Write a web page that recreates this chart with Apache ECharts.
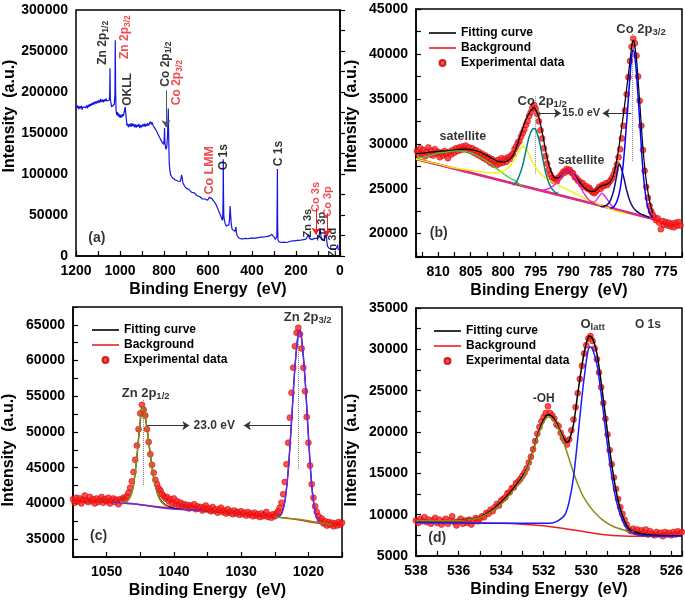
<!DOCTYPE html>
<html>
<head>
<meta charset="utf-8">
<script src="https://cdn.jsdelivr.net/npm/echarts@6/dist/echarts.min.js"></script>
<style>
  html, body { margin: 0; padding: 0; background: #fff; }
  #chart { width: 685px; height: 605px; }
</style>
</head>
<body>
<div id="chart"></div>
<script>
// (a) survey spectrum, [binding energy eV, counts]
const surveyData = [
  [1200,184000],[1196,180500],[1192,183500],[1188,179000],[1184,182500],[1180,180000],[1176,183000],[1172,178500],
  [1168,182000],[1164,180500],[1160,184000],[1156,181000],[1152,183500],[1148,180000],[1144,184500],[1140,182000],
  [1136,185500],[1132,183000],[1128,186500],[1124,184000],[1120,187500],[1116,185000],[1112,188500],[1108,186000],
  [1104,189000],[1100,186500],[1096,190000],[1092,187000],[1088,191500],[1084,188000],[1080,190500],[1076,187500],
  [1072,191000],[1068,188500],[1064,192000],[1060,189000],[1056,191000],[1052,187500],[1049,190000],[1047,196000],
  [1045.5,229000],[1044,192000],[1041,186000],[1038,182000],[1035,180500],[1032,183000],[1029,181500],[1026,185000],
  [1023,197000],[1021.5,263000],[1020,205000],[1018,178000],[1015,172000],[1012,175500],[1009,170500],[1006,173500],
  [1003,169000],[1000,172500],[997,168500],[994,172000],[991,169500],[988,173000],[985,170500],[982,174000],
  [979,172000],[976.5,182000],[974,175000],[971,166000],[968,159000],[965,161500],[962,157000],[959,160500],
  [956,158000],[953,161500],[950,157500],[946,162000],[942,158500],[938,161000],[934,157000],[930,160500],
  [926,156500],[922,160000],[918,157500],[914,161000],[910,156000],[906,159500],[902,157000],[898,160500],
  [894,158000],[890,161500],[886,157500],[882,161000],[878,158500],[874,162000],[870,159000],[866,161500],
  [862,164000],[858,160500],[854,163000],[850,159500],[846,160500],[842,156000],[838,155500],[834,152500],
  [830,152000],[826,148000],[822,147000],[818,143500],[814,142000],[810,139500],[806,138000],[802,136000],
  [799,142000],[797.5,156000],[796,139000],[793,132500],[790,130000],[787,134000],[784,146000],[782,165000],
  [780.5,180000],[779,150000],[777.5,128000],[776,112000],[773,104000],[770,99000],[766,97000],[762,95500],
  [758,96500],[754,94000],[750,93000],[746,92500],[742,93500],[738,91500],[734,92000],[730,90500],
  [726,91000],[723,94500],[720,99000],[717,95000],[714,89000],[710,87500],[706,85000],[702,84000],
  [698,82500],[694,83000],[690,80500],[686,81000],[682,79000],[678,79500],[674,77500],[670,78000],
  [666,76500],[662,77000],[658,75000],[654,75500],[650,73500],[646,74000],[642,72000],[638,72500],
  [634,70500],[630,71000],[626,69500],[622,70000],[618,68500],[614,69500],[610,68000],[606,69000],
  [602,68000],[598,70000],[594,71500],[590,73500],[586,72000],[582,70000],[578,68500],[574,67000],
  [570,66000],[566,64000],[562,62500],[558,59500],[554,56500],[550,54000],[546,51500],[542,49000],
  [538,46000],[535,43500],[533,46000],[531.5,70000],[530.5,118000],[529.5,75000],[528,48000],[525,42500],
  [521,39000],[517,36500],[513,35500],[509,36000],[505,38000],[502,45000],[499.5,61000],[497,50000],
  [494,38000],[490,32500],[486,31000],[482,31500],[478,30000],[475,32000],[473,35500],[471,29000],
  [468,25000],[465,23000],[460,22000],[455,21500],[450,21000],[445,22000],[440,21000],[435,22500],
  [430,21500],[425,22000],[420,21000],[415,22500],[410,21500],[405,23000],[400,22000],[395,22500],
  [390,21500],[385,23000],[380,22000],[375,23000],[370,22500],[365,23500],[360,23000],[355,24000],
  [350,23000],[345,24000],[340,23500],[335,24500],[330,24000],[325,25000],[320,24500],[315,25500],
  [310,26500],[306,28000],[302,26000],[298,22500],[294,20000],[290,19000],[287,24000],[285.5,70000],
  [284.5,106000],[283.5,40000],[282,20000],[279,17500],[275,17000],[270,17500],[265,16500],[260,17500],
  [255,17000],[250,17500],[245,16500],[240,18000],[235,17000],[230,17500],[225,18000],[220,17000],
  [215,18500],[210,17500],[205,18500],[200,18000],[195,19000],[190,18000],[185,19000],[180,18500],
  [175,19500],[170,19000],[165,20000],[160,19500],[155,20500],[150,20000],[146,21500],[142.5,26000],
  [139,21500],[135,20000],[131,21000],[127,20000],[123,21500],[119,20500],[115,21500],[111,20500],
  [107,22000],[103,21500],[99,23000],[95,24000],[92,29000],[89.5,33500],[87,25000],[84,20000],
  [80,18500],[76,18000],[72,18500],[68,20000],[65,25000],[62.5,28500],[60,18000],[57,12000],
  [54,10000],[50,9500],[45,9000],[40,8500],[35,8000],[30,8200],[25,7600],[20,8000],
  [16,8800],[13,11500],[11,14000],[9,8500],[6,7200],[3,7600],[0,7000]
];

// (b) Co 2p, experimental points from 813.25 eV downwards in 0.25 eV steps
const coStart = 813.25, coStep = 0.25;
const coCounts = [
  29200,28800,29500,28900,29300,28600,29100,29600,28800,29200,28700,29400,28900,29100,28500,29000,
  28700,29200,28900,28400,29100,28800,29300,29000,29500,29200,29600,29300,29700,29400,29800,29300,
  29600,29200,29500,29000,29300,28800,29100,28600,28900,28400,28700,28200,28500,27900,28300,27700,
  28100,27600,28200,27800,28400,27900,28300,28000,28500,28300,28700,28900,29400,29700,30100,30300,
  30800,31200,31600,32100,32500,33100,33500,34000,34300,33900,33300,32500,31500,30600,29500,28600,
  27800,27100,26600,26200,25900,26100,25800,26200,26400,26600,26900,26800,27200,27000,27100,26800,
  26700,26300,26200,25900,25800,25500,25600,25200,25300,25000,25100,24800,24600,24500,24700,24900,
  25200,25000,25400,25300,25600,25400,25700,25900,26200,26600,27100,27700,28500,29400,30600,32000,
  33700,35500,37400,39200,40800,41700,41200,39800,37500,34800,32000,29300,27000,25200,24000,23100,
  22500,22100,21800,21500,21700,21200,20500,21400,21000,21300,20900,21200,20800,21100,20700,21200,
  20900,21300,20900
];
const coFit = [
  [813.4,28900],[812,29000],[811,29100],[810,29150],[809,29200],[808,29250],[807,29350],[806,29400],
  [805,29350],[804,29200],[803,28900],[802,28500],[801,28100],[800,27950],[799,28250],[798.5,28700],
  [798,29500],[797.5,30600],[797,31700],[796.5,32700],[796,33400],[795.5,33900],[795.2,34000],[795,33800],
  [794.5,32900],[794,31300],[793.5,29400],[793,27700],[792.5,26700],[792,26200],[791.5,26200],[791,26500],
  [790.5,26900],[790,27100],[789.5,26900],[789,26500],[788.5,26000],[788,25500],[787.5,25100],[787,24800],
  [786.5,24700],[786,24700],[785.5,25000],[785,25300],[784.5,25400],[784,25500],[783.5,25800],[783,26600],
  [782.5,28300],[782,30600],[781.5,33300],[781,36200],[780.5,39200],[780.2,41000],[780,41500],[779.8,41100],
  [779.5,39500],[779,34600],[778.5,29500],[778,25900],[777.5,23700],[777,22300]
];
const coBackground = [[813.4,28300],[777,21650]];
const coSatHigh = [
  [813.4,28350],[812,28550],[811,28750],[810,28950],[809,29050],[808,29150],[807,29200],[806,29150],
  [805,29000],[804,28700],[803,28300],[802,27800],[801,27250],[800,26700],[799,26200],[798,25800],
  [797.5,25500],[797,25350]
];
const coSatMid = [
  [813.4,28300],[811,27900],[809,27550],[807,27250],[805,27050],[803,26850],[801,26750],[800,26950],
  [799,27500],[798.5,28000],[798,28600],[797.5,29300],[797,29700],[796.5,29500],[796,28800],[795.5,28000],
  [795,27400],[794.5,26900],[794,26500],[793,26000],[792,25600],[791,25200],[790,24850],[789,24500],
  [788,24150],[787,23800],[786,23500],[785,23200],[784,22900],[783,22600],[782,22400],[781,22200]
];
const coPeakHalf = [
  [798.5,25400],[798,25700],[797.5,26500],[797,27600],[796.5,29200],[796,30800],[795.5,31600],[795.2,31700],
  [795,31600],[794.5,30500],[794,28700],[793.5,26900],[793,25700],[792.5,25000],[792,24600],[791.5,24500]
];
const coSatLow = [
  [794,24800],[793,25000],[792,25500],[791,26400],[790.5,26900],[790,27100],[789.5,26900],[789,26400],
  [788.5,25700],[788,25000],[787.5,24400],[787,23900],[786.5,23600],[786,23500],[785.5,23900],[785,24400],
  [784.8,24500],[784.5,24300],[784,23800],[783.5,23300],[783,22900],[782.5,22700],[782,22600]
];
const coShoulder = [
  [785,23000],[784.5,23050],[784,23200],[783.5,23700],[783,24800],[782.5,26600],[782.2,27700],[782,27600],
  [781.5,26400],[781,24800],[780.5,23600],[780,22900],[779.5,22500],[779,22250],[778.5,22100],[778,21950],
  [777.5,21800]
];
const coPeakMain = [
  [783.5,22800],[783,23000],[782.5,23600],[782,25000],[781.5,28000],[781,32500],[780.5,37500],[780.2,40000],
  [780,40400],[779.8,40000],[779.5,37800],[779,32500],[778.5,27000],[778,23800],[777.5,22300],[777,21800]
];

// (c) Zn 2p, experimental points from 1055 eV downwards in 0.25 eV steps
const znStart = 1055, znStep = 0.25;
const znCounts = [
  40600,40100,40800,40300,40700,40000,40500,41100,40400,40200,40900,40300,40600,40000,40700,40200,
  40500,40900,40100,40600,40300,40800,40000,40400,40700,40200,40500,39900,40600,40300,40800,40600,
  41000,41500,42200,43100,44400,46100,48100,50400,52600,53800,53100,52300,50400,48600,46900,45400,
  44300,43300,42700,42100,41800,41300,41000,40700,40900,40300,40600,40000,40700,39900,40300,39700,
  40100,39600,39900,39500,39800,39300,39700,39400,39900,39200,39600,39300,39500,39000,39400,39700,
  39100,39300,38900,39500,39000,39200,38700,39100,39400,38800,39000,38600,39200,38700,38900,38500,
  39000,38600,38800,38400,38900,38500,38700,38300,38800,38400,38600,38200,38700,38300,38500,38100,
  38600,38200,38400,38800,38100,38300,38000,38500,38200,38600,38900,39400,40100,41300,43000,45500,
  48500,52000,55500,59000,62000,63900,64600,63700,61700,59000,55700,52100,48500,45300,42700,40800,
  39600,38800,38200,37600,37900,37200,37500,36900,37400,37000,37300,36800,37200,36900,37400,37000,
  37300
];
const znFit = [
  [1055,40350],[1050,40200],[1048,40150],[1047,40350],[1046.5,40950],[1046,42600],[1045.5,46600],[1045,51600],
  [1044.7,53600],[1044.5,53400],[1044,50600],[1043.5,46900],[1043,43600],[1042.5,41600],[1042,40500],[1041.5,40000],
  [1041,39700],[1040,39350],[1038,39150],[1036,39000],[1034,38800],[1032,38650],[1030,38500],[1028,38350],
  [1026,38200],[1025,38150],[1024.5,38250],[1024,38600],[1023.5,40300],[1023,44600],[1022.5,51600],[1022,59100],
  [1021.5,63900],[1021.25,64300],[1021,63100],[1020.5,57600],[1020,49600],[1019.5,42600],[1019,38900],[1018.5,37600],
  [1018,37200],[1017,37050],[1015,37000]
];
const znBackground = [
  [1055,40300],[1048,40150],[1044,39700],[1040,39300],[1036,39000],[1030,38500],[1025,38100],[1022,37800],
  [1019,37300],[1015,37000]
];
const zn32Component = [
  [1049,40200],[1047,40000],[1045,39800],[1043,39550],[1041,39300],[1039,39150],[1037,39050],[1036,39000],'-',
  [1025,38000],[1024.5,38100],[1024,38500],[1023.5,40200],[1023,44500],[1022.5,51500],[1022,59000],[1021.5,63800],
  [1021.25,64200],[1021,63000],[1020.5,57500],[1020,49500],[1019.5,42500],[1019,38800],[1018.5,37500],[1018,37100]
];
const zn12Component = [
  [1048,40150],[1047,40300],[1046.5,40900],[1046,42500],[1045.5,46500],[1045,51500],[1044.7,53500],[1044.5,53300],
  [1044,50500],[1043.5,46800],[1043,43500],[1042.5,41500],[1042,40400],[1041.5,39900],[1041,39600],'-',
  [1025,38100],[1023,37900],[1021,37700],[1019,37400],[1017,37100],[1016.5,37000]
];

// (d) O 1s, experimental points from 538 eV downwards in 0.1 eV steps
const oStart = 538, oStep = 0.1;
const oCounts = [
  9300,9000,9500,9200,9700,9100,9400,8900,9300,9600,9000,9400,8800,9200,9500,8900,
  9300,9800,9100,8700,9200,9500,8900,9300,9000,9400,8800,9200,9600,9200,9500,
  9800,9700,10200,10100,10600,10400,10900,11300,11100,11700,11900,12100,12600,12700,13200,13300,
  13800,14000,14300,14700,15100,15600,16300,17000,17900,18900,19800,20600,21300,21800,22300,23100,
  22300,22000,21600,20900,20700,19900,19300,18900,18500,19100,20200,21500,23000,24700,26400,28000,
  29500,30500,31300,31600,31000,30100,28800,27200,25400,23500,21600,19700,17800,16100,14500,13100,
  11900,10900,10100,9400,8800,8200,
  8000,8300,7900,8200,7700,8100,7800,8200,7600,8000,7700,7500,7900,7600,7800,7400,
  7900,7600,7800,7500,7900,7600,8000,7700,7900
];
const oFit = [
  [538,9250],[537,9250],[536,9300],[535.5,9450],[535,9700],[534.5,10400],[534,11500],[533.5,12900],
  [533,14600],[532.75,15800],[532.5,17700],[532.25,19900],[532,21500],[531.8,22100],[531.6,21900],[531.4,21100],
  [531.2,20000],[531,19000],[530.9,18750],[530.8,19000],[530.6,20900],[530.4,24600],[530.2,28100],[530,30700],
  [529.85,31600],[529.7,31300],[529.5,29500],[529.3,26000],[529.1,22000],[528.9,17900],[528.7,14400],[528.5,11700],
  [528.3,9900],[528.1,8700],[527.9,8100],[527.5,7750],[527,7550],[526,7450],[525.5,7450]
];
const oBackground = [
  [538,9050],[536,9000],[534,8950],[533,8850],[532,8650],[531,8300],[530,7900],[529.5,7700],
  [529,7550],[528.5,7450],[528,7400],[527,7380],[525.5,7380]
];
const ohComponent = [
  [538,9250],[537,9250],[536,9300],[535.5,9400],[535,9650],[534.5,10300],[534,11300],[533.5,12700],
  [533,14400],[532.75,15700],[532.5,17600],[532.25,19700],[532,21200],[531.8,21800],[531.6,21600],[531.4,20900],
  [531.2,19800],[531,18300],[530.8,16700],[530.6,15100],[530.4,13700],[530.2,12500],[530,11600],[529.75,10700],
  [529.5,10000],[529.25,9400],[529,8950],[528.75,8600],[528.5,8350],[528.25,8150],[528,8000],[527.75,7900]
];
const latticeComponent = [
  [538,9050],[536,9000],[534,8950],[532.5,8950],[531.6,9000],[531.3,9300],[531,10000],[530.8,11600],
  [530.6,14500],[530.4,19200],[530.2,24300],[530,28500],[529.9,30000],[529.8,30300],[529.7,30000],[529.5,28200],
  [529.3,24600],[529.1,20400],[528.9,16400],[528.7,13100],[528.5,10800],[528.3,9300],[528.1,8400],[527.9,7900],
  [527.6,7600],[527.2,7450],[526,7400],[525.5,7400]
];

const FONT = '"Liberation Sans", Arial, sans-serif';
const RED = '#ee1c24';
const DOT = '#ff2020';
const LINE_ICON = 'path://M0,0H27V1.6H0Z';

const legendItems = [
  { name: 'Fitting curve', icon: LINE_ICON },
  { name: 'Background', icon: LINE_ICON },
  { name: 'Experimental data', icon: 'circle' }
];

function points(start, step, values) {
  return values.map((v, i) => [start - i * step, v]);
}

function tickText(labelStep) {
  return v => Math.abs(v / labelStep - Math.round(v / labelStep)) < 1e-6 ? String(Math.round(v)) : '';
}

function energyAxis(i, min, max, step, labelStep) {
  return {
    type: 'value', gridIndex: i, inverse: true, min: min, max: max,
    minInterval: step, maxInterval: step,
    name: 'Binding Energy  (eV)', nameLocation: 'middle', nameGap: 26,
    nameTextStyle: { fontFamily: FONT, fontWeight: 'bold', fontSize: 16, color: '#000' },
    axisLine: { lineStyle: { color: '#000', width: 1.5 } },
    axisTick: { inside: true, length: 5, lineStyle: { color: '#000', width: 1.2 } },
    axisLabel: { color: '#000', fontFamily: FONT, fontWeight: 'bold', fontSize: 14, margin: 8, formatter: tickText(labelStep) },
    splitLine: { show: false }
  };
}

function countAxis(i, min, max, step, labelStep, pad) {
  return {
    type: 'value', gridIndex: i, min: min, max: max,
    minInterval: step, maxInterval: step,
    name: 'Intensity  (a.u.)', nameLocation: 'middle', nameGap: 56,
    nameTextStyle: { fontFamily: FONT, fontWeight: 'bold', fontSize: 16, color: '#000', padding: pad },
    axisLine: { lineStyle: { color: '#000', width: 1.5 } },
    axisTick: { inside: true, length: 5, lineStyle: { color: '#000', width: 1.2 } },
    axisLabel: { color: '#000', fontFamily: FONT, fontWeight: 'bold', fontSize: 14, margin: 8, formatter: tickText(labelStep) },
    splitLine: { show: false }
  };
}

function curve(i, name, data, color, width, z) {
  return {
    type: 'line', name: name, xAxisIndex: i, yAxisIndex: i, data: data,
    symbol: 'none', showSymbol: false, smooth: 0.3, silent: true, z: z,
    lineStyle: { color: color, width: width }, itemStyle: { color: color }
  };
}

function dots(i, data, marks) {
  return {
    type: 'scatter', name: 'Experimental data', xAxisIndex: i, yAxisIndex: i, data: data,
    symbolSize: 6, silent: true, z: 4,
    itemStyle: { color: DOT, borderColor: '#c00000', borderWidth: 0.6 },
    markLine: marks ? { silent: true, label: { show: false }, animation: false, data: marks } : undefined
  };
}

// guide line between two data points, optional arrow head at the end
function guide(from, to, color, arrow, dotted) {
  return [
    { coord: from, symbol: 'none', lineStyle: { color: color, width: 1, type: dotted ? 'dotted' : 'solid' } },
    { coord: to, symbol: arrow ? 'arrow' : 'none', symbolSize: 7 }
  ];
}

function rich(color, size) {
  return {
    m: { color: color, fontFamily: FONT, fontWeight: 'bold', fontSize: size, lineHeight: size + 3 },
    s: { color: color, fontFamily: FONT, fontWeight: 'bold', fontSize: size - 3.5, lineHeight: 8, verticalAlign: 'bottom' }
  };
}

// notes: [text, x, y, color, rotate, fontSize]
function notes(i, list) {
  return {
    type: 'scatter', xAxisIndex: i, yAxisIndex: i, symbolSize: 0, silent: true, z: 20,
    data: list.map(n => ({
      value: [n[1], n[2]],
      label: {
        show: true, position: 'inside', rotate: n[4] || 0,
        formatter: n[0], rich: rich(n[3] || '#000', n[5] || 13)
      }
    }))
  };
}

function legendAt(left, top) {
  return {
    data: legendItems, orient: 'vertical', left: left, top: top, padding: 0,
    itemWidth: 27, itemHeight: 6, itemGap: 1, selectedMode: false, symbolKeepAspect: true,
    textStyle: { fontFamily: FONT, fontWeight: 'bold', fontSize: 12, color: '#000', lineHeight: 14 }
  };
}

const chart = echarts.init(document.getElementById('chart'));

const gridBox = { show: true, borderColor: '#000', borderWidth: 1.5, containLabel: false, outerBoundsMode: 'none' };

chart.setOption({
  animation: false,
  backgroundColor: '#fff',
  grid: [
    Object.assign({ left: 76, top: 10, width: 264, height: 246 }, gridBox),
    Object.assign({ left: 416, top: 9, width: 266, height: 248 }, gridBox),
    Object.assign({ left: 73, top: 307, width: 269, height: 250 }, gridBox),
    Object.assign({ left: 416, top: 308, width: 266, height: 248 }, gridBox)
  ],
  xAxis: [
    energyAxis(0, 0, 1200, 100, 200),
    energyAxis(1, 772.5, 813.4, 2.5, 5),
    energyAxis(2, 1015, 1055, 5, 10),
    energyAxis(3, 525.5, 538, 1, 2)
  ],
  yAxis: [
    countAxis(0, 0, 300000, 25000, 50000, [0, 0, 0, 34]),
    countAxis(1, 17400, 45000, 2500, 5000, [0, 0, 0, 34]),
    countAxis(2, 32500, 67500, 2500, 5000, [0, 36, 0, 0]),
    countAxis(3, 5000, 35000, 2500, 5000, [0, 36, 0, 0])
  ],
  legend: [legendAt(429, 26), legendAt(92, 323), legendAt(434, 324)],
  series: [
    // (a)
    {
      type: 'line', xAxisIndex: 0, yAxisIndex: 0, data: surveyData, symbol: 'none', showSymbol: false,
      silent: true, lineStyle: { color: '#1414e6', width: 1.2 }, z: 3,
      markLine: {
        silent: true, label: { show: false }, animation: false,
        data: [
          guide([791, 202000], [791, 157000], '#555', true),
          guide([109, 58000], [109, 26000], RED, true),
          guide([60, 52000], [60, 24000], RED, true)
        ]
      }
    },
    notes(0, [
      ['{m|Zn 2p}{s|1/2}', 1077, 260000, '#000', 90, 12],
      ['{m|Zn 2p}{s|3/2}', 977, 267000, RED, 90, 12],
      ['{m|OKLL}', 964, 203000, '#000', 90, 12],
      ['{m|Co 2p}{s|1/2}', 791, 234000, '#000', 90, 12],
      ['{m|Co 2p}{s|3/2}', 741, 211500, RED, 90, 12],
      ['{m|Co LMM}', 591, 104500, RED, 90, 12.5],
      ['{m|O 1s}', 527, 120500, '#000', 90, 12],
      ['{m|C 1s}', 277, 125000, '#000', 90, 12],
      ['{m|Zn 3s}', 145, 40000, '#000', 90, 11],
      ['{m|Co 3s}', 109, 72000, RED, 90, 11],
      ['{m|Zn 3p}', 82, 36000, '#000', 90, 11],
      ['{m|Co 3p}', 55, 66500, RED, 90, 11],
      ['{m|Zn 3d}', 32, 16500, '#000', 90, 11],
      ['{m|(a)}', 1105, 22000, '#000', 0, 14]
    ]),

    // (b)
    curve(1, 'Background', coBackground, RED, 2.5, 2),
    curve(1, null, coBackground, '#c832c8', 1.3, 3),
    dots(1, points(coStart, coStep, coCounts), [
      guide([795.1, 35300], [795.1, 26600], '#888', false, true),
      guide([780.1, 42200], [780.1, 28000], '#888', false, true),
      guide([794.7, 33400], [791.1, 33400], '#333', true),
      guide([780.3, 33400], [784.7, 33400], '#333', true)
    ]),
    curve(1, 'Fitting curve', coFit, '#000', 1.2, 5),
    curve(1, null, coSatHigh, '#2ed62e', 1.3, 6),
    curve(1, null, coSatMid, '#f2f200', 1.3, 6),
    curve(1, null, coPeakHalf, '#008080', 1.5, 6),
    curve(1, null, coSatLow, '#e020e0', 1.3, 6),
    curve(1, null, coShoulder, '#10107a', 1.5, 6),
    curve(1, null, coPeakMain, '#0000ff', 1.5, 6),
    notes(1, [
      ['{m|Co 2p}{s|3/2}', 778.8, 42700],
      ['{m|Co 2p}{s|1/2}', 794, 34700],
      ['{m|15.0 eV}', 788, 33400, '#000', 0, 11],
      ['{m|satellite}', 806.2, 30800, '#000', 0, 12.5],
      ['{m|satellite}', 788, 28100, '#000', 0, 12.5],
      ['{m|(b)}', 809.9, 20000, '#000', 0, 14]
    ]),

    // (c)
    curve(2, 'Background', znBackground, RED, 1.5, 2),
    curve(2, 'Fitting curve', znFit, '#000', 1.2, 3),
    dots(2, points(znStart, znStep, znCounts), [
      guide([1044.6, 54500], [1044.6, 42600], '#777', false, true),
      guide([1021.5, 63700], [1021.5, 44700], '#777', false, true),
      guide([1044.2, 50900], [1037.7, 50900], '#333', true),
      guide([1022.4, 50900], [1029.6, 50900], '#333', true)
    ]),
    curve(2, null, zn32Component, '#6a28e8', 1.5, 6),
    curve(2, null, zn12Component, '#8a8a10', 1.5, 6),
    notes(2, [
      ['{m|Zn 2p}{s|3/2}', 1020.1, 66100],
      ['{m|Zn 2p}{s|1/2}', 1044.2, 55400],
      ['{m|23.0 eV}', 1034, 50900, '#000', 0, 12],
      ['{m|(c)}', 1051.2, 35400, '#000', 0, 14]
    ]),

    // (d)
    dots(3, points(oStart, oStep, oCounts)),
    curve(3, 'Background', oBackground, RED, 1.5, 5),
    curve(3, null, ohComponent, '#8a8a14', 1.5, 6),
    curve(3, null, latticeComponent, '#1a1aff', 1.5, 6),
    curve(3, 'Fitting curve', oFit, '#000', 1.5, 5),
    notes(3, [
      ['{m|O}{s|latt}', 529.7, 33000],
      ['{m|O 1s}', 527.1, 33000, '#000', 0, 12],
      ['{m|-OH}', 532, 24000, '#000', 0, 12],
      ['{m|(d)}', 537, 7150, '#000', 0, 14]
    ])
  ]
});
</script>
</body>
</html>
